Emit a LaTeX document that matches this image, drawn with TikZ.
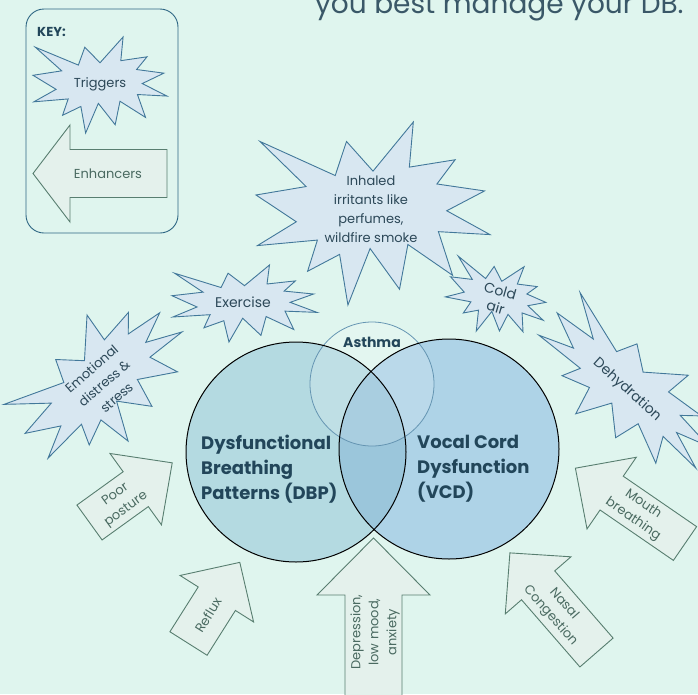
\documentclass[tikz,border=0pt]{standalone}
\usepackage{fontspec}
\setmainfont{Poppins}
\usetikzlibrary{positioning}

\definecolor{mintbg}{HTML}{DFF5EE}
\definecolor{burstfillcol}{HTML}{D8E7F1}
\definecolor{burstlinecol}{HTML}{42789A}
\definecolor{bursttextcol}{HTML}{2C4858}
\definecolor{enhfillcol}{HTML}{E4F1EC}
\definecolor{enhlinecol}{HTML}{587E70}
\definecolor{enhtextcol}{HTML}{4A6A61}
\definecolor{dbpcol}{HTML}{B4DAE1}
\definecolor{vcdcol}{HTML}{AED3E7}
\definecolor{bothcol}{HTML}{9BC6DB}
\definecolor{asthmacol}{HTML}{6595B2}
\definecolor{venntextcol}{HTML}{22465A}
\definecolor{keylinecol}{HTML}{2F6784}
\definecolor{titlecol}{HTML}{3A5868}

% explosion outline, unit box centred on the origin
\newcommand{\burst}[4]{%
  \draw[burst, shift={#1}, rotate=#4, xscale=#2, yscale=#3]
    (0,-0.2315) -- (-0.1133,-0.3937) -- (-0.1615,-0.2074) -- (-0.4829,-0.3937)
    -- (-0.2858,-0.1474) -- (-0.5,-0.1012) -- (-0.3277,0.0451) -- (-0.4938,0.1753)
    -- (-0.2376,0.1452) -- (-0.2795,0.3156) -- (-0.1428,0.2235) -- (-0.1072,0.5)
    -- (-0.0124,0.1914) -- (0.1133,0.4138) -- (0.1491,0.1693) -- (0.34,0.3377)
    -- (0.2795,0.0992) -- (0.5,0.1153) -- (0.3151,-0.015) -- (0.4767,-0.1233)
    -- (0.2732,-0.1613) -- (0.3509,-0.2937) -- (0.1553,-0.2535) -- (0.1723,-0.5)
    -- cycle;}

% block arrow: tail, angle, length, head length, head half width, shaft half width
\newcommand{\enharrow}[6]{%
  \draw[enharrow, shift={#1}, rotate=#2]
    (0,-#6) -- (#3-#4,-#6) -- (#3-#4,-#5) -- (#3,0) -- (#3-#4,#5)
    -- (#3-#4,#6) -- (0,#6) -- cycle;}

\begin{document}
\begin{tikzpicture}[x=1pt, y=-1pt,
    burst/.style={draw=burstlinecol, fill=burstfillcol, line width=0.9pt},
    bursttext/.style={text=bursttextcol, font=\fontsize{13}{19}\selectfont, align=center, inner sep=0pt},
    enharrow/.style={draw=enhlinecol, fill=enhfillcol, line width=0.9pt},
    enhtext/.style={text=enhtextcol, font=\fontsize{13}{18}\selectfont, align=center, inner sep=0pt},
    venntext/.style={text=venntextcol, font=\bfseries\fontsize{18}{25}\selectfont, align=left, inner sep=0pt, anchor=west}]
  \fill[mintbg] (0,0) rectangle (698,694);
  \useasboundingbox (0,0) rectangle (698,694);

  \node[anchor=base west, inner sep=0pt, text=titlecol, font=\fontsize{28}{30}\selectfont] (title) at (315,13) {you best manage your DB.};

  \draw[keylinecol, line width=0.9pt, rounded corners=18pt] (26,9) rectangle (178,233);
  \node[anchor=base west, inner sep=0pt, text=venntextcol, font=\bfseries\fontsize{13}{15}\selectfont] (key) at (37,36) {KEY:};
  \burst{(100,85)}{134}{96}{0}
  \node[bursttext] (triggers) at (100,84) {Triggers};
  \enharrow{(167,173.5)}{180}{134}{37}{48.5}{24}
  \node[enhtext] (enhancers) at (108,174) {Enhancers};

  \burst{(373,213.5)}{234}{183}{0}
  \node[bursttext] (inhaled) at (371,209) {Inhaled\\irritants like\\perfumes,\\wildfire smoke};
  \burst{(244.5,303.5)}{145}{77}{0}
  \node[bursttext, font=\fontsize{14}{19}\selectfont] (exercise) at (243,302) {Exercise};
  \burst{(103,382)}{185}{122}{41}
  \node[bursttext, rotate=41] (emotional) at (104,383) {Emotional\\distress \&\\stress};
  \burst{(497,298)}{101}{75}{-16}
  \node[bursttext, rotate=-16, font=\fontsize{14}{17}\selectfont] (coldair) at (498,299) {Cold\\air};
  \burst{(627,390)}{207}{104}{-42}
  \node[bursttext, rotate=-42, font=\fontsize{14}{19}\selectfont] (dehydration) at (627,390) {Dehydration};

  \fill[dbpcol] (296,452) circle[radius=110pt];
  \fill[vcdcol] (449,449) circle[radius=110pt];
  \begin{scope}
    \clip (296,452) circle[radius=110pt];
    \fill[bothcol] (449,449) circle[radius=110pt];
  \end{scope}
  \draw[asthmacol, fill=white, fill opacity=0.15, line width=0.8pt] (372,384) circle[radius=62pt];
  \draw[line width=1pt] (296,452) circle[radius=110pt] (449,449) circle[radius=110pt];
  \node[inner sep=0pt, text=venntextcol, font=\bfseries\fontsize{14}{16}\selectfont] (asthma) at (372,342) {Asthma};
  \node[venntext] (dbp) at (201,469) {Dysfunctional\\Breathing\\Patterns (DBP)};
  \node[venntext] (vcd) at (417,469) {Vocal Cord\\Dysfunction\\(VCD)};

  \enharrow{(89.5,522.5)}{35.8}{102}{45}{44}{21.5}
  \node[enhtext, rotate=36] (posture) at (121,502) {Poor\\posture};
  \enharrow{(188.5,643.5)}{57.7}{96}{43}{43.5}{22}
  \node[enhtext, rotate=58] (reflux) at (208,615) {Reflux};
  \enharrow{(373.5,720)}{90}{182}{57}{56.5}{28.5}
  \node[enhtext, rotate=90] (mood) at (375,632) {Depression,\\low mood,\\anxiety};
  \enharrow{(596.5,652.5)}{131}{132}{43}{43.5}{22}
  \node[enhtext, rotate=-49] (nasal) at (557,610) {Nasal\\Congestion};
  \enharrow{(685,543.5)}{145.5}{133}{44}{43.5}{20.5}
  \node[enhtext, rotate=-34.5] (mouth) at (638,512) {Mouth\\breathing};
\end{tikzpicture}
\end{document}
